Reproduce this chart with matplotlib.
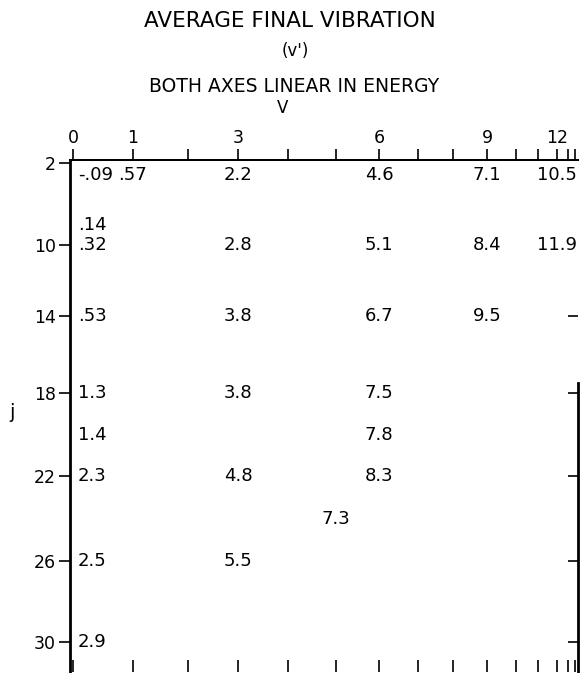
import numpy as np, matplotlib
matplotlib.use("Agg"); import matplotlib.pyplot as plt
plt.rcParams.update({"font.family": "DejaVu Sans", "font.size": 13})

# vibrational levels v and their energies (arbitrary units, top axis)
V_LEVELS = list(range(15))
E_VIB = [0, 60, 115, 165, 215, 263, 306, 345, 380, 414, 443, 465, 484, 495, 502]
V_LABELED = [0, 1, 3, 6, 9, 12]
# rotational levels j and their energies (arbitrary units, left axis)
J_LABELED = [2, 10, 14, 18, 22, 26, 30]
E_ROT = [0, 82, 153, 230, 313, 398, 479]
J_RIGHT = [14, 18, 22, 26, 30]

# average final vibration <v'> for each initial (v, j)
v_init = [0, 1, 3, 6, 9, 12,
          0,
          0, 3, 6, 9, 12,
          0, 3, 6, 9,
          0, 3, 6,
          0, 6,
          0, 3, 6,
          5,
          0, 3,
          0]
j_init = [2, 2, 2, 2, 2, 2,
          8,
          10, 10, 10, 10, 10,
          14, 14, 14, 14,
          18, 18, 18,
          20, 20,
          22, 22, 22,
          24,
          26, 26,
          30]
v_final = ["-.09", ".57", "2.2", "4.6", "7.1", "10.5",
           ".14",
           ".32", "2.8", "5.1", "8.4", "11.9",
           ".53", "3.8", "6.7", "9.5",
           "1.3", "3.8", "7.5",
           "1.4", "7.8",
           "2.3", "4.8", "8.3",
           "7.3",
           "2.5", "5.5",
           "2.9"]

ev = lambda v: np.interp(v, V_LEVELS, E_VIB)
ej = lambda j: np.interp(j, J_LABELED, E_ROT)

fig = plt.figure(figsize=(5.8, 6.73), dpi=100)
ax = fig.add_axes([70/580, 1/673, 508/580, 512/673])
ax.set_xlim(-3, 505); ax.set_ylim(509, -3)
for s in ax.spines.values(): s.set_linewidth(1.4)
ax.spines["left"].set_linewidth(2)
ax.spines["bottom"].set_visible(False)
ax.spines["right"].set_visible(False)

# bottom: inward ticks at every level, no labels
ax.set_xticks(ev(V_LEVELS))
ax.tick_params(axis="x", direction="in", length=9, width=1.2, labelbottom=False)
# top: outward ticks, labels only on some levels
top = ax.secondary_xaxis("top")
top.set_xticks(ev(V_LABELED), labels=[str(v) for v in V_LABELED])
top.set_xticks(ev([v for v in V_LEVELS if v not in V_LABELED]), minor=True)
top.tick_params(which="both", direction="out", length=8, width=1.2, labelsize=12.5, pad=1)
top.spines["top"].set_linewidth(1.4)

ax.set_yticks(ej(J_LABELED), labels=[str(j) for j in J_LABELED])
ax.tick_params(axis="y", direction="out", length=8, width=1.2, labelsize=12.5, pad=2)
rgt = ax.secondary_yaxis("right")
rgt.set_yticks(ej(J_RIGHT), labels=[])
rgt.tick_params(direction="in", length=7, width=1.2)
rgt.spines["right"].set_linewidth(2)
rgt.spines["right"].set_bounds(ej(17.5), 509)

ax.set_ylabel("j", rotation=0, fontsize=14, va="center")
ax.yaxis.set_label_coords(-0.114, 0.506)

for v, j, s in zip(v_init, j_init, v_final):
    x, y = ev(v), ej(j)
    ha = "center"
    if v == 0:
        ha = "left"; x += 5
    if j == J_LABELED[0]:
        ax.text(x, y + 3, s, ha=ha, va="top", fontsize=13)
    else:
        ax.text(x, y, s, ha=ha, va="center", fontsize=13)

fig.text(0.5, 1 - 21/673, "AVERAGE FINAL VIBRATION", ha="center", va="center", fontsize=15.5)
fig.text(0.509, 1 - 51/673, "(v')", ha="center", va="center", fontsize=12)
fig.text(0.507, 1 - 87/673, "BOTH AXES LINEAR IN ENERGY", ha="center", va="center", fontsize=13.5)
fig.text(0.488, 1 - 108/673, "V", ha="center", va="center", fontsize=12)

fig.savefig("out.png", dpi=100)
